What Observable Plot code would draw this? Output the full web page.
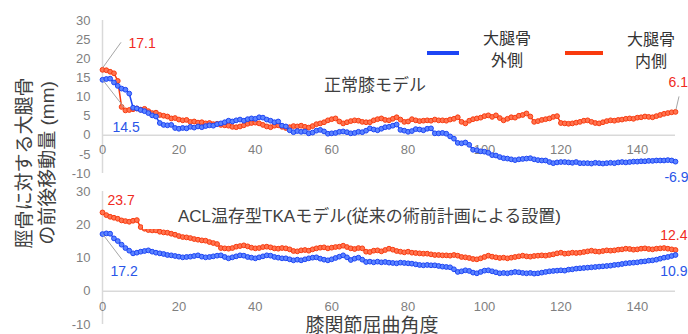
<!DOCTYPE html>
<html><head><meta charset="utf-8">
<script src="https://cdn.jsdelivr.net/npm/d3@7"></script>
<script src="https://cdn.jsdelivr.net/npm/@observablehq/plot@0.6"></script>
<style>
body{margin:0;background:#fff;}
#root{position:relative;width:688px;height:334px;overflow:hidden;font-family:"Liberation Sans","Noto Sans CJK JP",sans-serif;}
#root svg{position:absolute;left:0;}
.t{position:absolute;white-space:nowrap;transform:translate(-50%,-50%);text-align:center;}
</style></head><body><div id="root"></div>
<script>
// ---------- data ----------
const angles = Array.from({length:151},(_, i)=>i);
const xTicks = [0,20,40,60,80,100,120,140];
const topYTicks = [30,25,20,15,10,5,0,-5,-10];
const botYTicks = [30,20,10,0,-10];

// 正常膝モデル 大腿骨外側 (blue)
const normalLateral = [
14.5,14.7,14.8,13.8,12.9,12.2,11.9,10.9,7.2,7.0,
6.6,6.3,5.8,5.2,4.9,3.2,2.7,2.6,2.7,1.9,
1.7,1.9,1.8,2.2,2.0,2.3,2.1,2.4,2.6,2.5,
2.9,3.1,3.4,3.8,3.6,3.9,4.1,3.8,4.2,4.4,
4.3,4.7,4.6,4.1,3.8,3.4,3.6,2.5,2.3,1.3,
0.8,1.1,0.9,1.0,0.5,0.7,1.2,1.4,1.0,0.4,
0.5,0.6,0.9,1.0,0.8,0.5,0.6,0.9,0.8,1.2,
1.8,1.5,1.3,1.7,2.1,2.2,2.5,2.8,1.4,1.2,
0.9,1.1,1.6,1.5,1.3,1.7,1.8,0.5,0.5,0.6,
0.4,-0.3,-0.9,-2.0,-2.1,-1.9,-2.5,-3.8,-3.9,-4.2,
-4.3,-4.6,-5.2,-5.3,-5.7,-6.0,-6.1,-6.3,-6.5,-6.3,
-6.2,-6.1,-6.0,-6.3,-6.5,-6.6,-6.6,-7.0,-7.3,-7.1,
-7.0,-7.0,-7.1,-7.2,-7.0,-7.3,-7.3,-7.3,-7.4,-7.2,
-7.3,-7.4,-7.3,-7.2,-7.3,-7.1,-7.0,-7.1,-7.0,-6.9,
-6.9,-6.8,-6.8,-6.7,-6.7,-6.6,-6.6,-6.6,-6.5,-6.6,-6.9];

// 正常膝モデル 大腿骨内側 (red)
const normalMedial = [
17.1,17.0,16.6,16.2,14.2,7.4,6.5,6.6,6.8,7.0,
6.7,6.9,6.3,5.8,5.9,5.3,5.1,4.9,4.4,4.5,
4.1,3.9,4.0,3.5,3.6,3.3,3.4,3.1,3.2,2.9,
3.0,2.7,2.6,2.5,2.2,2.1,2.3,2.6,3.0,3.2,
3.3,3.1,2.7,2.3,2.1,2.5,2.6,2.2,1.9,2.1,
2.4,2.3,2.5,2.2,2.0,2.4,2.9,3.1,3.4,3.9,
4.2,4.4,3.6,3.1,3.4,3.7,3.9,3.8,3.5,3.4,
3.4,3.9,4.2,4.4,4.0,3.9,4.3,4.7,4.1,3.5,
3.6,4.2,3.9,3.7,3.8,3.9,3.8,4.1,3.9,3.9,
3.8,4.1,4.3,4.7,3.5,3.1,3.8,4.2,4.4,4.6,
5.0,5.2,4.8,5.2,4.5,3.9,4.3,4.7,4.6,5.1,
5.3,5.7,4.9,3.5,3.7,4.0,4.2,4.4,4.8,5.0,
3.2,3.1,3.0,3.1,3.3,3.5,3.8,3.9,3.5,3.2,
3.1,3.4,3.7,3.9,3.8,4.0,4.1,4.3,4.4,4.3,
4.6,4.7,4.9,4.8,4.7,5.0,5.3,5.6,5.8,6.0,6.1];

// ACL温存型TKAモデル 大腿骨外側 (blue)
const aclLateral = [
17.2,17.4,17.3,15.9,15.1,14.0,13.0,12.2,11.4,11.6,
11.9,12.1,12.3,11.9,11.6,11.4,11.2,10.9,10.8,10.6,
10.4,10.2,10.3,10.4,10.6,10.8,10.4,10.2,10.3,10.5,
10.7,10.8,10.3,9.9,10.2,10.5,10.8,10.7,10.3,10.1,
9.9,10.2,10.5,10.8,10.7,10.3,10.1,9.9,9.9,9.6,
9.3,9.5,9.3,9.6,9.9,10.1,10.2,9.8,9.5,9.3,
9.6,10.0,10.4,10.8,10.2,9.4,9.8,10.1,9.5,8.8,
8.9,8.7,8.9,8.7,8.8,8.6,8.5,8.4,8.6,8.5,
8.4,8.3,8.1,7.9,7.8,7.9,7.8,7.8,7.6,7.4,
7.3,7.2,6.6,5.8,6.0,6.3,6.1,5.6,5.4,5.8,
6.2,6.3,6.0,5.7,5.4,5.5,5.4,5.6,5.8,5.7,
5.5,5.4,5.5,5.3,5.4,5.6,5.8,6.0,6.1,6.2,
6.3,6.2,6.5,6.6,6.8,6.9,7.0,7.1,7.2,7.3,
7.4,7.5,7.6,7.7,7.9,8.0,8.2,8.4,8.5,8.6,
8.7,8.9,9.0,9.2,9.3,9.5,9.8,10.1,10.3,10.6,10.9];

// ACL温存型TKAモデル 大腿骨内側 (red)
const aclMedial = [
23.7,22.9,22.4,22.1,21.8,21.3,21.1,20.9,21.2,21.4,
19.3,18.8,18.4,18.3,18.3,17.9,17.7,17.6,17.3,17.0,
16.6,16.3,16.2,16.0,15.7,15.5,15.3,15.2,14.8,14.5,
14.2,13.0,12.9,12.8,13.0,13.4,13.6,13.8,13.5,13.1,
12.9,13.0,13.3,13.4,13.2,12.9,12.8,13.0,12.9,12.6,
12.1,12.0,12.3,12.4,12.2,12.6,12.9,13.1,13.2,12.9,
13.1,13.3,13.4,13.7,13.3,12.9,12.7,13.0,12.9,11.9,
11.8,12.2,12.3,12.0,12.4,12.8,12.5,12.1,11.9,11.7,
11.9,11.6,11.5,11.4,11.3,11.3,11.1,10.9,10.9,10.8,
10.8,10.7,10.9,10.7,10.3,10.2,10.0,9.7,9.6,9.9,
10.3,10.7,10.4,10.2,10.0,10.1,9.9,10.1,10.3,10.5,
10.7,10.5,10.4,10.6,10.7,10.8,10.7,10.9,11.1,11.4,
11.6,11.3,11.4,11.6,11.5,11.6,11.8,12.0,12.2,12.0,
11.9,12.1,12.3,12.2,12.3,12.5,12.6,12.8,12.7,12.5,
12.6,12.8,12.9,12.7,12.6,12.8,12.9,13.0,12.8,12.6,12.4];

const seriesNames = ["大腿骨\n外側","大腿骨\n内側"];
const panelTitles = ["正常膝モデル","ACL温存型TKAモデル(従来の術前計画による設置)"];
const yTitle = ["脛骨に対する大腿骨","の前後移動量 (mm)"];
const xTitle = "膝関節屈曲角度";

// ---------- styling ----------
const BLUE="#1d45f5", BLUE_DOT="#5b83ff", RED="#f93a0e", RED_DOT="#ff7450";
const BLUE_TXT="#2a55e8", RED_TXT="#f02a22";
const root = document.getElementById("root");

function panel({lat, med, yTicks, height, top, marginBottom, xdy, labels, leaders}) {
  const latRows = angles.map((a,i)=>({a, v: lat[i]}));
  const medRows = angles.map((a,i)=>({a, v: med[i]}));
  const svg = Plot.plot({
    width: 688, height, marginLeft: 102, marginRight: 13, marginTop: 20, marginBottom,
    x: {domain: [0,150], axis: null},
    y: {domain: [-10,30], ticks: yTicks, tickSize: 0, tickPadding: 12, tickFormat: d=>String(d), label: null},
    style: {background: "transparent", overflow: "visible", fontFamily: "Liberation Sans, Arial, sans-serif", fontSize: "13px", color: "#7f7f7f"},
    marks: [
      Plot.ruleX([0], {stroke: "#d9d9d9", strokeWidth: 1.5}),
      Plot.ruleY([0], {stroke: "#d9d9d9", strokeWidth: 1.5}),
      Plot.text(xTicks, {x: d=>d, y: 0, dy: xdy, text: d=>String(d), fill: "#7f7f7f", fontSize: 13}),
      Plot.line(medRows, {x: "a", y: "v", stroke: RED, strokeWidth: 1.5}),
      Plot.dot(medRows, {x: "a", y: "v", r: 2.4, fill: RED_DOT, stroke: RED, strokeWidth: 1}),
      Plot.line(latRows, {x: "a", y: "v", stroke: BLUE, strokeWidth: 1.5}),
      Plot.dot(latRows, {x: "a", y: "v", r: 2.4, fill: BLUE_DOT, stroke: BLUE, strokeWidth: 1}),
      ...labels.map(l => Plot.text([l], {x: "a", y: "v", text: d=>d.v.toFixed(1), dx: l.dx, dy: l.dy,
        textAnchor: l.anchor, fill: l.color, fontSize: 14, fontFamily: "Liberation Sans, Arial, sans-serif"}))
    ]
  });
  svg.style.top = top + "px";
  const sx = svg.scale("x"), sy = svg.scale("y");
  const sel = d3.select(svg);
  leaders.forEach(l => {
    const px = sx.apply(l.a), py = sy.apply(l.v);
    sel.append("line").attr("x1", px + l.o[0]).attr("y1", py + l.o[1])
      .attr("x2", px + l.e[0]).attr("y2", py + l.e[1])
      .attr("stroke", "#a6a6a6").attr("stroke-width", 1);
  });
  root.appendChild(svg);
}

const last = 150;
panel({
  lat: normalLateral, med: normalMedial, yTicks: topYTicks, height: 178, top: 0, marginBottom: 5, xdy: 15,
  labels: [
    {a: 0, v: normalMedial[0], dx: 26, dy: -26.5, anchor: "start", color: RED_TXT},
    {a: 0, v: normalLateral[0], dx: 10, dy: 47.5, anchor: "start", color: BLUE_TXT},
    {a: last, v: normalMedial[last], dx: -7, dy: -29.5, anchor: "start", color: RED_TXT},
    {a: last, v: normalLateral[last], dx: 13, dy: 15.5, anchor: "end", color: BLUE_TXT}
  ],
  leaders: [
    {a: 0, v: normalMedial[0], o: [1,-2], e: [19,-27]},
    {a: 0, v: normalLateral[0], o: [1,1], e: [22,28]},
    {a: last, v: normalMedial[last], o: [1,-2], e: [4,-15]}
  ]
});
panel({
  lat: aclLateral, med: aclMedial, yTicks: botYTicks, height: 163, top: 171, marginBottom: 10, xdy: 16,
  labels: [
    {a: 0, v: aclMedial[0], dx: 5, dy: -12, anchor: "start", color: RED_TXT},
    {a: 0, v: aclLateral[0], dx: 8, dy: 37, anchor: "start", color: BLUE_TXT},
    {a: last, v: aclMedial[last], dx: 12, dy: -15, anchor: "end", color: RED_TXT},
    {a: last, v: aclLateral[last], dx: 12, dy: 17, anchor: "end", color: BLUE_TXT}
  ],
  leaders: [
    {a: 0, v: aclLateral[0], o: [1,1], e: [20,26]}
  ]
});

// ---------- text overlays ----------
function div(html, css, cls="t") {
  const d = document.createElement("div");
  d.className = cls; d.innerHTML = html; d.style.cssText += css; root.appendChild(d); return d;
}
div(panelTitles[0], "left:375px;top:83px;font-size:17px;color:#404040;");
// ACL title sits in a white text box (as in the reference)
div(panelTitles[1], "position:absolute;left:143px;top:205px;height:24px;line-height:24px;padding-left:35px;padding-right:10px;background:#fff;font-size:17px;color:#404040;white-space:nowrap;", "");
div(yTitle.join("<br>"), "left:35.5px;top:163px;font-size:19px;line-height:23px;color:#404040;transform:translate(-50%,-50%) rotate(-90deg);");
div(xTitle, "left:372px;top:323px;font-size:19px;color:#404040;");
// legend
div("", `left:427px;top:51px;width:32px;height:4px;background:${BLUE};transform:none;`);
div("", `left:565px;top:51px;width:38px;height:4px;background:${RED};transform:none;`);
div(seriesNames[0].replace("\n","<br>"), "left:507px;top:49.5px;font-size:16px;line-height:22px;color:#333;");
div(seriesNames[1].replace("\n","<br>"), "left:651px;top:50.5px;font-size:16px;line-height:22px;color:#333;");
</script></body></html>
